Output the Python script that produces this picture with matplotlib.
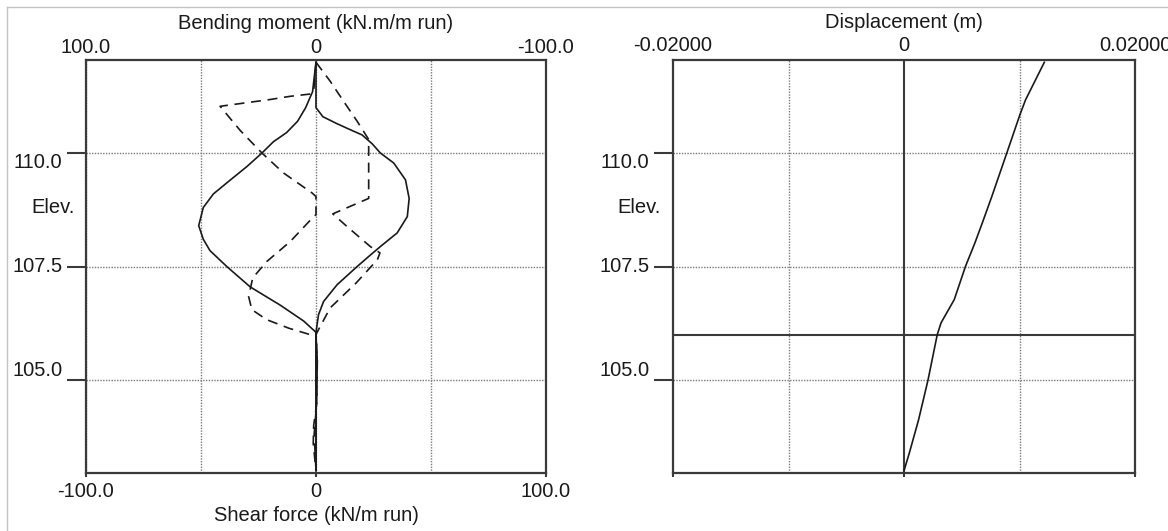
import numpy as np
import matplotlib.pyplot as plt
from matplotlib.lines import Line2D

plt.rcParams['font.family'] = ['Liberation Sans', 'DejaVu Sans']
plt.rcParams['font.size'] = 14.5

#-----------------------------------------------------------------------------------------------------#
# data (elevation in m)

# bending moment, two curves (kN.m/m run), plotted against the top axis
elev_bm1 = [112.0, 111.7, 111.35, 111.0, 110.7, 110.45, 110.25, 110.0, 109.7, 109.4, 109.1,
            108.8, 108.4, 108.1, 107.85, 107.5, 107.05, 106.65, 106.3, 106.05, 103.0]
bm1 = [0, 0.7, 1.5, 4.5, 8.0, 12.8, 18.5, 23.5, 30.1, 37.4, 44.6,
       49.0, 51.0, 49.0, 46.1, 38.8, 28.6, 15.6, 5.4, 0, 0]

elev_bm2 = [112.0, 111.0, 110.8, 110.65, 110.5, 110.4, 110.2, 110.0, 109.78, 109.41, 109.0,
            108.6, 108.24, 107.94, 107.72, 107.5, 107.1, 106.73, 106.44, 106.05, 103.0]
bm2 = [0, 0, -3.0, -9.0, -15.5, -20.0, -24.5, -28.0, -33.8, -38.9, -40.5,
       -39.7, -35.3, -28.0, -22.9, -17.9, -9.2, -3.3, -1.1, 0, 0]

# shear force, two curves (kN/m run), plotted against the bottom axis
elev_sf1 = [112.0, 111.36, 111.3, 111.25, 111.18, 111.12, 111.03, 110.5, 110.0, 109.56, 109.12,
            109.04, 108.64, 108.6, 108.05, 107.61, 107.25, 106.84, 106.55, 106.33, 106.14, 105.96,
            105.5, 104.5, 104.0, 103.6, 103.0]
sf1 = [0, -1.0, -2.5, -11.2, -19.9, -28.6, -41.7, -33.0, -23.5, -14.1, -1.7,
       0, 0, -1.0, -11.2, -21.4, -27.5, -29.3, -27.9, -21.5, -11.8, 0,
       0.5, 0.4, -1.0, -1.2, 0]

elev_sf2 = [112.0, 111.58, 111.14, 110.70, 110.3, 109.0, 108.66, 108.38, 107.94, 107.8, 107.65,
            107.14, 106.59, 106.11, 106.0, 105.5, 104.5, 103.8, 103.0]
sf2 = [0, 6.2, 12.0, 17.9, 22.9, 22.9, 7.3, 13.5, 23.6, 27.8, 26.7,
       17.5, 6.2, 1.1, 0, 0.6, 0.3, -0.8, 0]

# displacement (m)
elev_disp = [112.0, 111.17, 110.84, 110.0, 109.04, 108.46, 108.02, 107.5, 106.77, 106.26, 106.0,
             105.0, 104.12, 103.39, 103.0]
disp = [0.01215, 0.01052, 0.01003, 0.0089, 0.0076, 0.00678, 0.00614, 0.00532, 0.00435, 0.00321, 0.00288,
        0.00208, 0.00126, 0.00046, 0.0]

excavation_level = 106.0

elev_ticks = [105.0, 107.5, 110.0]
elev_labels = ['105.0', '107.5', '110.0']
sf_ticks = [-100, 0, 100]
sf_labels = ['-100.0', '0', '100.0']
bm_ticks = [100, 0, -100]
bm_labels = ['100.0', '0', '-100.0']
disp_ticks = [-0.02, 0, 0.02]
disp_labels = ['-0.02000', '0', '0.02000']

#-----------------------------------------------------------------------------------------------------#

W, H = 1168, 531
fig = plt.figure(figsize=(W / 100, H / 100), dpi=100)

def px_box(x0, y0, x1, y1):
    return [x0 / W, 1 - y1 / H, (x1 - x0) / W, (y1 - y0) / H]

ink = '#1a1a1a'
frame = '#3a3a3a'
grid_c = '#7a7a7a'

# thin grey window border
fig.add_artist(Line2D([7 / W, 7 / W], [0, 1 - 7 / H], transform=fig.transFigure, color='#c4c4c4', lw=1))
fig.add_artist(Line2D([7 / W, 1], [1 - 7 / H, 1 - 7 / H], transform=fig.transFigure, color='#c4c4c4', lw=1))

ax_sf = fig.add_axes(px_box(86, 60, 546, 473))
ax_bm = ax_sf.twiny()
ax_d = fig.add_axes(px_box(673, 60, 1135, 473))

#-----------------------------------------------------------------------------------------------------#

def style_axes(ax, minor_x):
    ax.set_ylim(102.95, 112.05)
    ax.set_yticks(elev_ticks)
    ax.set_yticklabels(elev_labels)
    ax.set_xticks(minor_x, minor=True)
    ax.tick_params(axis='y', direction='out', length=14, width=1.5, color=frame, pad=3, labelcolor=ink)
    ax.tick_params(axis='x', which='major', direction='out', length=3, width=1.5, color=frame,
                   labelcolor=ink)
    ax.tick_params(axis='x', which='minor', length=0)
    for lbl, va in zip(ax.get_yticklabels(), ['bottom', 'center', 'top']):
        lbl.set_va(va)
    for s in ax.spines.values():
        s.set_color(frame)
        s.set_linewidth(1.6)
    ax.grid(True, which='both', ls=(0, (1, 1)), color=grid_c, lw=1)
    ax.set_axisbelow(True)

# left: shear force (bottom) and bending moment (top)
ax_sf.set_xlim(-100, 100)
ax_sf.set_xticks(sf_ticks)
ax_sf.set_xticklabels(sf_labels)
style_axes(ax_sf, [-50, 50])
ax_sf.set_xlabel('Shear force (kN/m run)', color=ink, labelpad=3.5)

ax_bm.set_xlim(100, -100)
ax_bm.set_xticks(bm_ticks)
ax_bm.set_xticklabels(bm_labels)
ax_bm.tick_params(axis='x', length=0, pad=2.5, labelcolor=ink)
ax_bm.set_xlabel('Bending moment (kN.m/m run)', color=ink, labelpad=6)
for s in ax_bm.spines.values():
    s.set_visible(False)

ax_sf.plot(sf1, elev_sf1, color=ink, lw=1.2, dashes=(6, 4))
ax_sf.plot(sf2, elev_sf2, color=ink, lw=1.2, dashes=(6, 4))
ax_bm.plot(bm1, elev_bm1, color=ink, lw=1.2)
ax_bm.plot(bm2, elev_bm2, color=ink, lw=1.2)

# right: displacement
ax_d.set_xlim(-0.02, 0.02)
ax_d.set_xticks(disp_ticks)
ax_d.set_xticklabels(disp_labels)
style_axes(ax_d, [-0.01, 0.01])
ax_d.grid(False, which='major', axis='x')
ax_d.tick_params(axis='x', labelbottom=False, labeltop=True, top=False, pad=0.5)
ax_d.xaxis.set_label_position('top')
ax_d.set_xlabel('Displacement (m)', color=ink, labelpad=5.5)
ax_d.axvline(0, color=frame, lw=1.5)
ax_d.axhline(excavation_level, color=frame, lw=1.5)
ax_d.plot(disp, elev_disp, color=ink, lw=1.2)

fig.text(53.5 / W, 1 - 207 / H, 'Elev.', ha='center', va='center', color=ink)
fig.text(639 / W, 1 - 207 / H, 'Elev.', ha='center', va='center', color=ink)

#-----------------------------------------------------------------------------------------------------#

fig.savefig('out.png', dpi=100, facecolor='white')
